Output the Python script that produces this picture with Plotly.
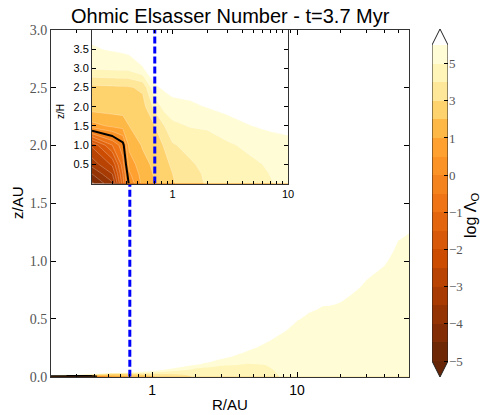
import numpy as np
import plotly.graph_objects as go

# ---------------- data ----------------
R_nodes = [0.2, 0.3, 0.37, 0.42, 0.55, 0.7, 0.85, 1.0, 1.4, 2.0, 3.0, 4.5, 6.0, 7.5,
           10, 12, 15, 17, 20, 30, 40, 50, 60]                      # R / AU
zeta_nodes = [0, 0.25, 0.5, 1.0, 1.5, 2.0, 2.5, 3.0, 3.5, 4.0]       # z / H
H_au = [0.0029, 0.0048, 0.0063, 0.0074, 0.0103, 0.0139, 0.0178, 0.0217, 0.0332,
        0.0518, 0.0858, 0.143, 0.204, 0.270, 0.387, 0.486, 0.642, 0.751,
        0.92, 1.53, 2.19, 2.90, 3.63]                                # scale height / AU
# log Lambda_O, one list per R node (values at zeta_nodes)
logL_cols = [
    [-4.6, -4.0, -3.3, -2.4, 0.8, 2.5, 2.7, 5.1, 5.9, 6.3],
    [-3.6, -3.0, -2.4, -1.0, 1.2, 2.5, 2.8, 5.2, 6.1, 6.5],
    [-1.2, -1.0, -0.7, -0.2, 1.4, 2.5, 2.85, 5.25, 6.2, 6.55],
    [0.1, 0.4, 0.7, 1.3, 2.0, 2.5, 2.9, 5.3, 6.3, 6.6],
    [1.3, 1.5, 1.7, 2.1, 2.4, 2.6, 3.2, 5.95, 6.4, 6.7],
    [2.0, 2.1, 2.2, 2.5, 3.0, 4.3, 5.85, 6.5, 6.8, 7.0],
    [2.5, 2.6, 2.7, 3.1, 4.0, 5.4, 6.15, 6.6, 6.9, 7.1],
    [2.9, 3.0, 3.2, 3.9, 4.75, 5.6, 6.4, 6.8, 7.0, 7.2],
    [3.6, 3.7, 3.85, 4.3, 5.05, 5.8, 6.4, 6.8, 7.0, 7.2],
    [4.1, 4.15, 4.3, 4.65, 5.1, 6.05, 6.6, 7.0, 7.2, 7.4],
    [4.3, 4.35, 4.5, 4.85, 5.6, 6.3, 6.8, 7.1, 7.3, 7.5],
    [4.5, 4.6, 4.75, 5.2, 5.95, 6.5, 6.9, 7.2, 7.4, 7.6],
    [4.7, 4.85, 5.0, 5.5, 6.1, 6.6, 7.0, 7.3, 7.5, 7.7],
    [5.0, 5.1, 5.25, 5.6, 6.2, 6.7, 7.0, 7.3, 7.5, 7.7],
    [5.15, 5.2, 5.3, 5.7, 6.3, 6.8, 7.1, 7.4, 7.6, 7.8],
    [5.2, 5.25, 5.4, 5.85, 6.4, 6.9, 7.2, 7.4, 7.6, 7.8],
    [5.25, 5.35, 5.55, 6.05, 6.5, 6.9, 7.2, 7.4, 7.6, 7.8],
    [5.3, 5.4, 5.65, 6.2, 6.6, 7.0, 7.2, 7.4, 7.6, 7.8],
    [5.3, 5.45, 5.8, 6.3, 6.7, 7.0, 7.3, 7.5, 7.7, 7.9],
    [5.35, 5.6, 5.95, 6.5, 6.8, 7.1, 7.3, 7.5, 7.7, 7.9],
    [5.4, 5.7, 6.1, 6.6, 6.9, 7.1, 7.3, 7.5, 7.7, 7.9],
    [5.45, 5.75, 6.15, 6.7, 7.0, 7.2, 7.4, 7.6, 7.8, 8.0],
    [5.5, 5.85, 6.25, 6.8, 7.1, 7.3, 7.5, 7.7, 7.9, 8.1],
]
levels = [-5, -4.5, -4, -3.5, -3, -2.5, -2, -1.5, -1, -0.5, 0, 0.5, 1, 2, 3, 4, 5, 6]
cbar_ticks = [-5, -4, -3, -2, -1, 0, 1, 3, 5]
R_snow = 0.7          # dashed line position (AU)
black_level = 0       # highlighted contour (log Lambda = 0)

# ---------------- helpers ----------------
lev = np.array(levels, float)
nlev = len(lev)


def to_u(v):
    """map log Lambda to level-index space (each contour level -> integer)"""
    v = np.asarray(v, float)
    u = np.interp(v, lev, np.arange(nlev))
    u = np.where(v < lev[0], (v - lev[0]) / (lev[1] - lev[0]), u)
    u = np.where(v > lev[-1], nlev - 1 + (v - lev[-1]) / (lev[-1] - lev[-2]), u)
    return u


ylorbr = ['#ffffe5', '#fff7bc', '#fee391', '#fec44f', '#fe9929',
          '#ec7014', '#cc4c02', '#993404', '#662506']
ylorbr_rgb = [tuple(int(c[i:i + 2], 16) for i in (1, 3, 5)) for c in ylorbr]


def cmap_r(t):
    s = (1 - t) * 8
    i = min(int(np.floor(s)), 7)
    f = s - i
    a, b = ylorbr_rgb[i], ylorbr_rgb[i + 1]
    return 'rgb(%d,%d,%d)' % tuple(round(a[k] + (b[k] - a[k]) * f) for k in range(3))


mids = 0.5 * (lev[:-1] + lev[1:])
band_colors = ['#662506'] + [cmap_r((m - lev[0]) / (lev[-1] - lev[0])) for m in mids] + ['#ffffff']
nb = len(band_colors)
cscale = []
for j, c in enumerate(band_colors):
    cscale.append([max(0.0, (j - 0.5) / (nb - 1)), c])
    cscale.append([min(1.0, (j + 0.5) / (nb - 1)), c])

field = np.array(logL_cols, float).T            # (n_zeta, n_R)

# main panel: same field in physical height z = zeta * H
z_main = np.unique(np.concatenate([np.linspace(0, 0.1, 101), np.linspace(0.1, 3.0, 291)]))
main = np.empty((len(z_main), len(R_nodes)))
for i, H in enumerate(H_au):
    main[:, i] = np.interp(z_main / H, zeta_nodes, field[:, i])

u_black = float(to_u(black_level))

# ---------------- figure ----------------
W, Hpx = 491, 415


def px_x(a, b):
    return [a / W, b / W]


def px_y(top, bottom):
    return [(Hpx - bottom) / Hpx, (Hpx - top) / Hpx]


fig = go.Figure()

# main panel
fig.add_trace(go.Contour(
    x=R_nodes, y=z_main, z=to_u(main), xaxis='x', yaxis='y',
    colorscale=cscale, autocontour=False,
    contours=dict(start=0, end=nlev - 1, size=1, coloring='fill', showlines=False),
    line=dict(width=0, smoothing=0), showscale=False, hoverinfo='skip'))
fig.add_trace(go.Contour(
    x=R_nodes, y=z_main, z=to_u(main), xaxis='x', yaxis='y',
    autocontour=False, contours=dict(start=u_black, end=u_black, size=1, coloring='none'),
    line=dict(color='black', width=2, smoothing=0), showscale=False, hoverinfo='skip'))
fig.add_trace(go.Scatter(
    x=[R_snow, R_snow], y=[0, 3], mode='lines', xaxis='x', yaxis='y',
    line=dict(color='#0000ff', width=3, dash='7px,3px'), hoverinfo='skip'))

# inset panel
fig.add_trace(go.Contour(
    x=R_nodes, y=zeta_nodes, z=to_u(field), xaxis='x2', yaxis='y2',
    colorscale=cscale, autocontour=False,
    contours=dict(start=0, end=nlev - 1, size=1, coloring='fill', showlines=True),
    line=dict(color='rgba(255,255,255,0.45)', width=0.6, smoothing=0),
    showscale=False, hoverinfo='skip'))
fig.add_trace(go.Contour(
    x=R_nodes, y=zeta_nodes, z=to_u(field), xaxis='x2', yaxis='y2',
    autocontour=False, contours=dict(start=u_black, end=u_black, size=1, coloring='none'),
    line=dict(color='black', width=2, smoothing=0), showscale=False, hoverinfo='skip'))
fig.add_trace(go.Scatter(
    x=[R_snow, R_snow], y=[0, 4], mode='lines', xaxis='x2', yaxis='y2',
    line=dict(color='#0000ff', width=3, dash='7px,3px'), hoverinfo='skip'))

# colour bar (level-index space)
ucent = np.arange(nlev - 1) + 0.5
fig.add_trace(go.Heatmap(
    x=[0.5], y=ucent, z=[[u] for u in ucent], xaxis='x3', yaxis='y3',
    colorscale=cscale, zmin=-0.5, zmax=nlev - 0.5, showscale=False, hoverinfo='skip'))
tri = 0.86
top_u = nlev - 1
fig.add_trace(go.Scatter(x=[0, 1, 0.5, 0], y=[0, 0, -tri, 0], xaxis='x3', yaxis='y3',
                         mode='lines', fill='toself', fillcolor=band_colors[0],
                         line=dict(width=0), hoverinfo='skip'))
fig.add_trace(go.Scatter(x=[0, 1, 0.5, 0], y=[top_u, top_u, top_u + tri, top_u], xaxis='x3', yaxis='y3',
                         mode='lines', fill='toself', fillcolor=band_colors[-1],
                         line=dict(width=0), hoverinfo='skip'))
fig.add_trace(go.Scatter(x=[0, 0, 0.5, 1, 1, 0.5, 0], y=[0, top_u, top_u + tri, top_u, 0, -tri, 0],
                         xaxis='x3', yaxis='y3', mode='lines',
                         line=dict(color='#222222', width=1), hoverinfo='skip'))

minor_main = [0.3, 0.4, 0.5, 0.6, 0.7, 0.8, 0.9, 2, 3, 4, 5, 6, 7, 8, 9, 20, 30, 40, 50]
minor_in = [0.3, 0.4, 0.5, 0.6, 0.7, 0.8, 0.9, 2, 3, 4, 5, 6, 7, 8, 9]
axcol = '#333333'
sans = 'Liberation Sans, Arial, sans-serif'
serif = 'Liberation Serif, DejaVu Serif, serif'


def label(text, xpx, ypx, size, angle=0, family=sans):
    return dict(text=text, x=xpx / W, y=(Hpx - ypx) / Hpx, xref='paper', yref='paper',
                xanchor='center', yanchor='middle', textangle=angle, showarrow=False,
                font=dict(family=family, size=size, color='black'))


fig.update_layout(
    width=W, height=Hpx, margin=dict(l=0, r=0, t=0, b=0, autoexpand=False),
    paper_bgcolor='white', plot_bgcolor='white', showlegend=False,
    xaxis=dict(type='log', range=[np.log10(0.2), np.log10(59.2)], domain=px_x(51, 409), anchor='y',
               tickvals=[1, 10], ticktext=['1', '10'], ticks='inside', ticklen=5, tickcolor='black',
               minor=dict(tickvals=minor_main, ticks='inside', ticklen=3, tickcolor='black'),
               showline=True, linecolor=axcol, linewidth=1, mirror='ticks',
               showgrid=False, zeroline=False, tickfont=dict(family=sans, size=14, color='black')),
    yaxis=dict(range=[0, 3], domain=px_y(30, 376.7), anchor='x',
               tickvals=[0, 0.5, 1, 1.5, 2, 2.5, 3],
               ticktext=['0.0', '0.5', '1.0', '1.5', '2.0', '2.5', '3.0'],
               ticks='inside', ticklen=5, tickcolor='black',
               showline=True, linecolor=axcol, linewidth=1, mirror='ticks',
               showgrid=False, zeroline=False, tickfont=dict(family=serif, size=14, color='#555555')),
    xaxis2=dict(type='log', range=[np.log10(0.2), 1], domain=px_x(92, 288), anchor='y2',
                tickvals=[1, 10], ticktext=['1', '10'], ticks='inside', ticklen=4, tickcolor='black',
                minor=dict(tickvals=minor_in, ticks='inside', ticklen=2.5, tickcolor='black'),
                showline=True, linecolor=axcol, linewidth=1, mirror='ticks',
                showgrid=False, zeroline=False, tickfont=dict(family=sans, size=11, color='black')),
    yaxis2=dict(range=[0, 4], domain=px_y(30, 183.5), anchor='x2',
                tickvals=[0.5, 1, 1.5, 2, 2.5, 3, 3.5],
                ticktext=['0.5', '1.0', '1.5', '2.0', '2.5', '3.0', '3.5'],
                ticks='inside', ticklen=4, tickcolor='black',
                showline=True, linecolor=axcol, linewidth=1, mirror='ticks',
                showgrid=False, zeroline=False, tickfont=dict(family=sans, size=11, color='black')),
    xaxis3=dict(range=[0, 1], domain=px_x(432, 448), anchor='y3', visible=False, fixedrange=True),
    yaxis3=dict(range=[-tri, top_u + tri], domain=px_y(29, 377), anchor='x3', side='right',
                tickvals=[float(to_u(t)) for t in cbar_ticks],
                ticktext=[('\u2212%d' % -t) if t < 0 else '%d' % t for t in cbar_ticks],
                ticks='inside', ticklen=4, tickcolor='black', showline=False,
                showgrid=False, zeroline=False, tickfont=dict(family=serif, size=13, color='#555555')),
    annotations=[
        label('Ohmic Elsasser Number - t=3.7 Myr', 230, 16, 20),
        label('R/AU', 230, 404, 15),
        label('z/AU', 17, 203, 15, -90),
        label('z/H', 60, 112, 10, -90),
        label('log \u039b<sub>O</sub>', 471, 216, 16, -90),
    ],
)

fig.write_html('out.html', post_script=(
    "document.documentElement.style.margin='0';document.documentElement.style.padding='0';"
    "document.body.style.margin='0';document.body.style.padding='0';"
    "document.body.style.overflow='hidden';"))
